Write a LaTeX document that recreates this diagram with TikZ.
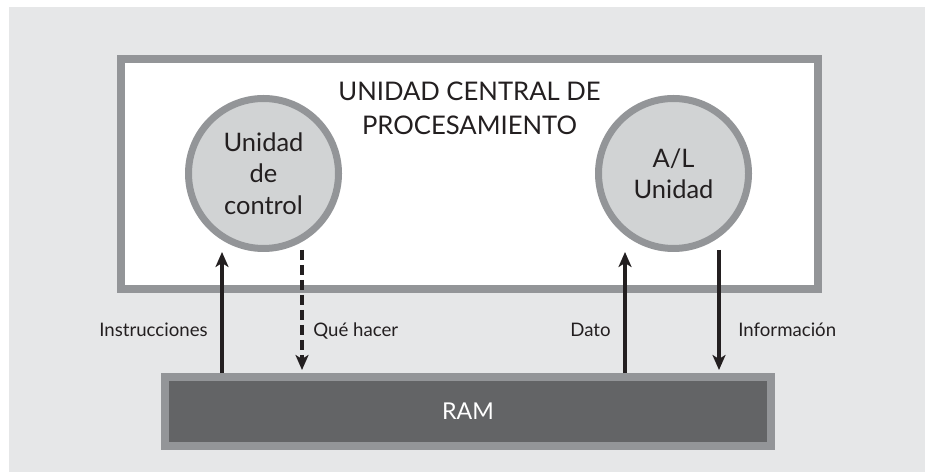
\documentclass[tikz,border=0pt]{standalone}
\usepackage{fontspec}
\setmainfont{Lato}
\usetikzlibrary{arrows.meta}
\definecolor{bggray}{HTML}{E6E7E8}
\definecolor{rimgray}{HTML}{939598}
\definecolor{discgray}{HTML}{D1D3D4}
\definecolor{ramgray}{HTML}{636466}
\definecolor{inkblack}{HTML}{231F20}
\begin{document}
\begin{tikzpicture}[x=0.02cm, y=-0.02cm,
      box/.style={draw=rimgray, line width=8*0.02cm, fill=white, minimum width=697*0.02cm, minimum height=230*0.02cm, inner sep=0pt},
      unit/.style={circle, draw=rimgray, line width=7*0.02cm, fill=discgray, minimum size=150*0.02cm, inner sep=0pt, align=center,
        font=\fontsize{14.5}{17.9}\selectfont, text=inkblack},
      bus/.style={draw=rimgray, line width=8*0.02cm, fill=ramgray, minimum width=606*0.02cm, minimum height=69*0.02cm, inner sep=0pt,
        text=white, font=\fontsize{13.2}{15}\selectfont},
      flow/.style={inkblack, line width=1.9pt, -{Stealth[length=0.3cm, width=0.26cm, inset=0.08cm]}},
      lbl/.style={text=inkblack, font=\fontsize{10.6}{12}\selectfont, inner sep=0pt}]
    \useasboundingbox (0,0) rectangle (925,472);
    \fill[bggray] (9,7) rectangle (925,472);
    % boxes
    \node[box] (cpu) at (469.5,174) {};
    \node[align=center, text=inkblack, font=\fontsize{14.6}{19.3}\selectfont] (title) at (469.5,108) {UNIDAD CENTRAL DE\\PROCESAMIENTO};
    \node[unit] (cu) at (263.5,173.5) {Unidad\\de\\control};
    \node[unit] (alu) at (673.5,173.5) {A/L\\Unidad};
    \node[bus] (ram) at (468,411.5) {RAM};
    % arrow ends
    \coordinate (instr) at (222,252);
    \coordinate (what) at (302,250);
    \coordinate (data) at (625,252);
    \coordinate (info) at (719,250);
    \draw[flow] (ram.north -| instr) -- (instr);
    \draw[flow, dash pattern=on 10*0.02cm off 5*0.02cm] (what) -- ([yshift=3*0.02cm]ram.north -| what);
    \draw[flow] (ram.north -| data) -- (data);
    \draw[flow] (info) -- ([yshift=3*0.02cm]ram.north -| info);
    % labels
    \node[lbl, anchor=base east] (linstr) at (208,337) {Instrucciones};
    \node[lbl, anchor=base west] (lwhat) at (313,337) {Qué hacer};
    \node[lbl, anchor=base east] (ldata) at (611,337) {Dato};
    \node[lbl, anchor=base west] (linfo) at (738,337) {Información};
  \end{tikzpicture}
\end{document}
